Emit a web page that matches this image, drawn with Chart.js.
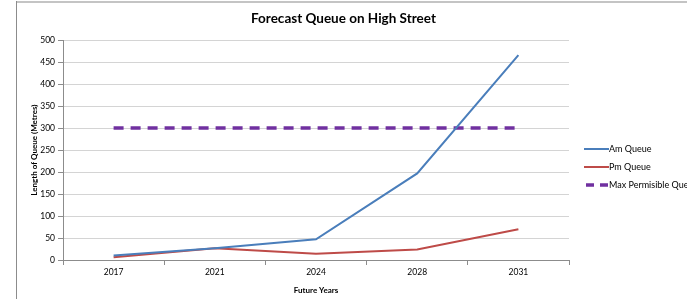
<!DOCTYPE html>
<html>
<head>
<meta charset="utf-8">
<script src="https://cdn.jsdelivr.net/npm/chart.js@4"></script>
<style>
  html, body { margin: 0; padding: 0; background: #fff; }
  #wrap { width: 687px; height: 299px; position: relative; }
</style>
</head>
<body>
<div id="wrap"><canvas id="chart" width="687" height="299"></canvas></div>
<script>
  const years = ["2017", "2021", "2024", "2028", "2031"];
  const amQueue = [10, 27, 47, 197, 466];
  const pmQueue = [6, 27, 14, 24, 70];
  const maxQueue = [300, 300, 300, 300, 300];
  const yTicks = [0, 50, 100, 150, 200, 250, 300, 350, 400, 450, 500];

  const FONT = "Lato, 'Open Sans', 'Liberation Sans', sans-serif";

  // outer frame (left + top edges only, like the source sheet)
  const framePlugin = {
    id: "frame",
    beforeDraw(chart) {
      const c = chart.ctx;
      c.save();
      c.fillStyle = "#fff";
      c.fillRect(0, 0, chart.width, chart.height);
      c.strokeStyle = "#c4c4c4";
      c.lineWidth = 2;
      c.beginPath();
      c.moveTo(16, 2);
      c.lineTo(chart.width, 2);
      c.stroke();
      c.strokeStyle = "#8c8c8c";
      c.lineWidth = 1;
      c.beginPath();
      c.moveTo(16.5, 1);
      c.lineTo(16.5, chart.height);
      c.stroke();
      c.restore();
    }
  };

  // simple right-hand legend, line samples with dash support
  const sideLegend = {
    id: "sideLegend",
    afterDraw(chart) {
      const c = chart.ctx;
      const x0 = 584, y0 = 149, step = 18;
      c.save();
      c.font = "9px " + FONT;
      c.textBaseline = "middle";
      c.textAlign = "left";
      chart.data.datasets.forEach((ds, i) => {
        const y = y0 + i * step;
        c.strokeStyle = ds.borderColor;
        c.lineWidth = ds.borderDash ? 3.5 : 2;
        c.setLineDash(ds.borderDash ? [8, 6] : []);
        c.beginPath();
        c.moveTo(x0 + (ds.borderDash ? 2 : 0), y);
        c.lineTo(x0 + 25, y);
        c.stroke();
        c.setLineDash([]);
        c.fillStyle = "#000";
        c.fillText(ds.label, x0 + 25, y);
      });
      c.restore();
    }
  };

  new Chart(document.getElementById("chart"), {
    type: "line",
    data: {
      labels: years,
      datasets: [
        { label: "Am Queue", data: amQueue, borderColor: "#4a7ebb", borderWidth: 2, pointRadius: 0, tension: 0 },
        { label: "Pm Queue", data: pmQueue, borderColor: "#be4b48", borderWidth: 2, pointRadius: 0, tension: 0 },
        { label: "Max Permisible Queue", data: maxQueue, borderColor: "#7030a0", borderWidth: 3.5, borderDash: [10, 7], pointRadius: 0, tension: 0 },
      ],
    },
    plugins: [framePlugin, sideLegend],
    options: {
      responsive: false,
      animation: false,
      layout: { padding: 0 },
      plugins: {
        legend: { display: false },
        tooltip: { enabled: false },
        title: {
          display: true,
          text: "Forecast Queue on High Street",
          color: "#000",
          font: { family: FONT, size: 13.5, weight: "bold", lineHeight: 1.2 },
          padding: { top: 11, bottom: 13 },
        },
      },
      scales: {
        x: {
          offset: true,
          afterFit: (s) => { s.height = 39; },
          grid: { offset: true, drawOnChartArea: false, drawTicks: true, tickLength: 5, color: "#8c8c8c" },
          border: { color: "#8c8c8c" },
          ticks: { color: "#000", font: { family: FONT, size: 8.5 }, padding: 2 },
          title: { display: true, text: "Future Years", color: "#000", font: { family: FONT, size: 8, weight: "bold" }, padding: { top: 2 } },
        },
        y: {
          min: 0,
          max: 500,
          afterFit: (s) => { s.width = 63; },
          afterBuildTicks: (s) => { s.ticks = yTicks.map(v => ({ value: v })); },
          grid: { color: "#d4d4d4", tickLength: 5, tickColor: "#8c8c8c" },
          border: { color: "#8c8c8c" },
          ticks: { color: "#000", font: { family: FONT, size: 8.5 }, padding: 3 },
          title: { display: true, text: "Length of Queue (Metres)", color: "#000", font: { family: FONT, size: 8, weight: "bold" }, padding: { top: 30, bottom: 0 } },
        },
        // empty right-hand box that reserves room for the legend
        yRight: {
          position: "right",
          display: true,
          afterFit: (s) => { s.width = 118; },
          grid: { display: false, drawOnChartArea: false },
          border: { display: false },
          ticks: { display: false },
        },
      },
    },
  });
</script>
</body>
</html>
